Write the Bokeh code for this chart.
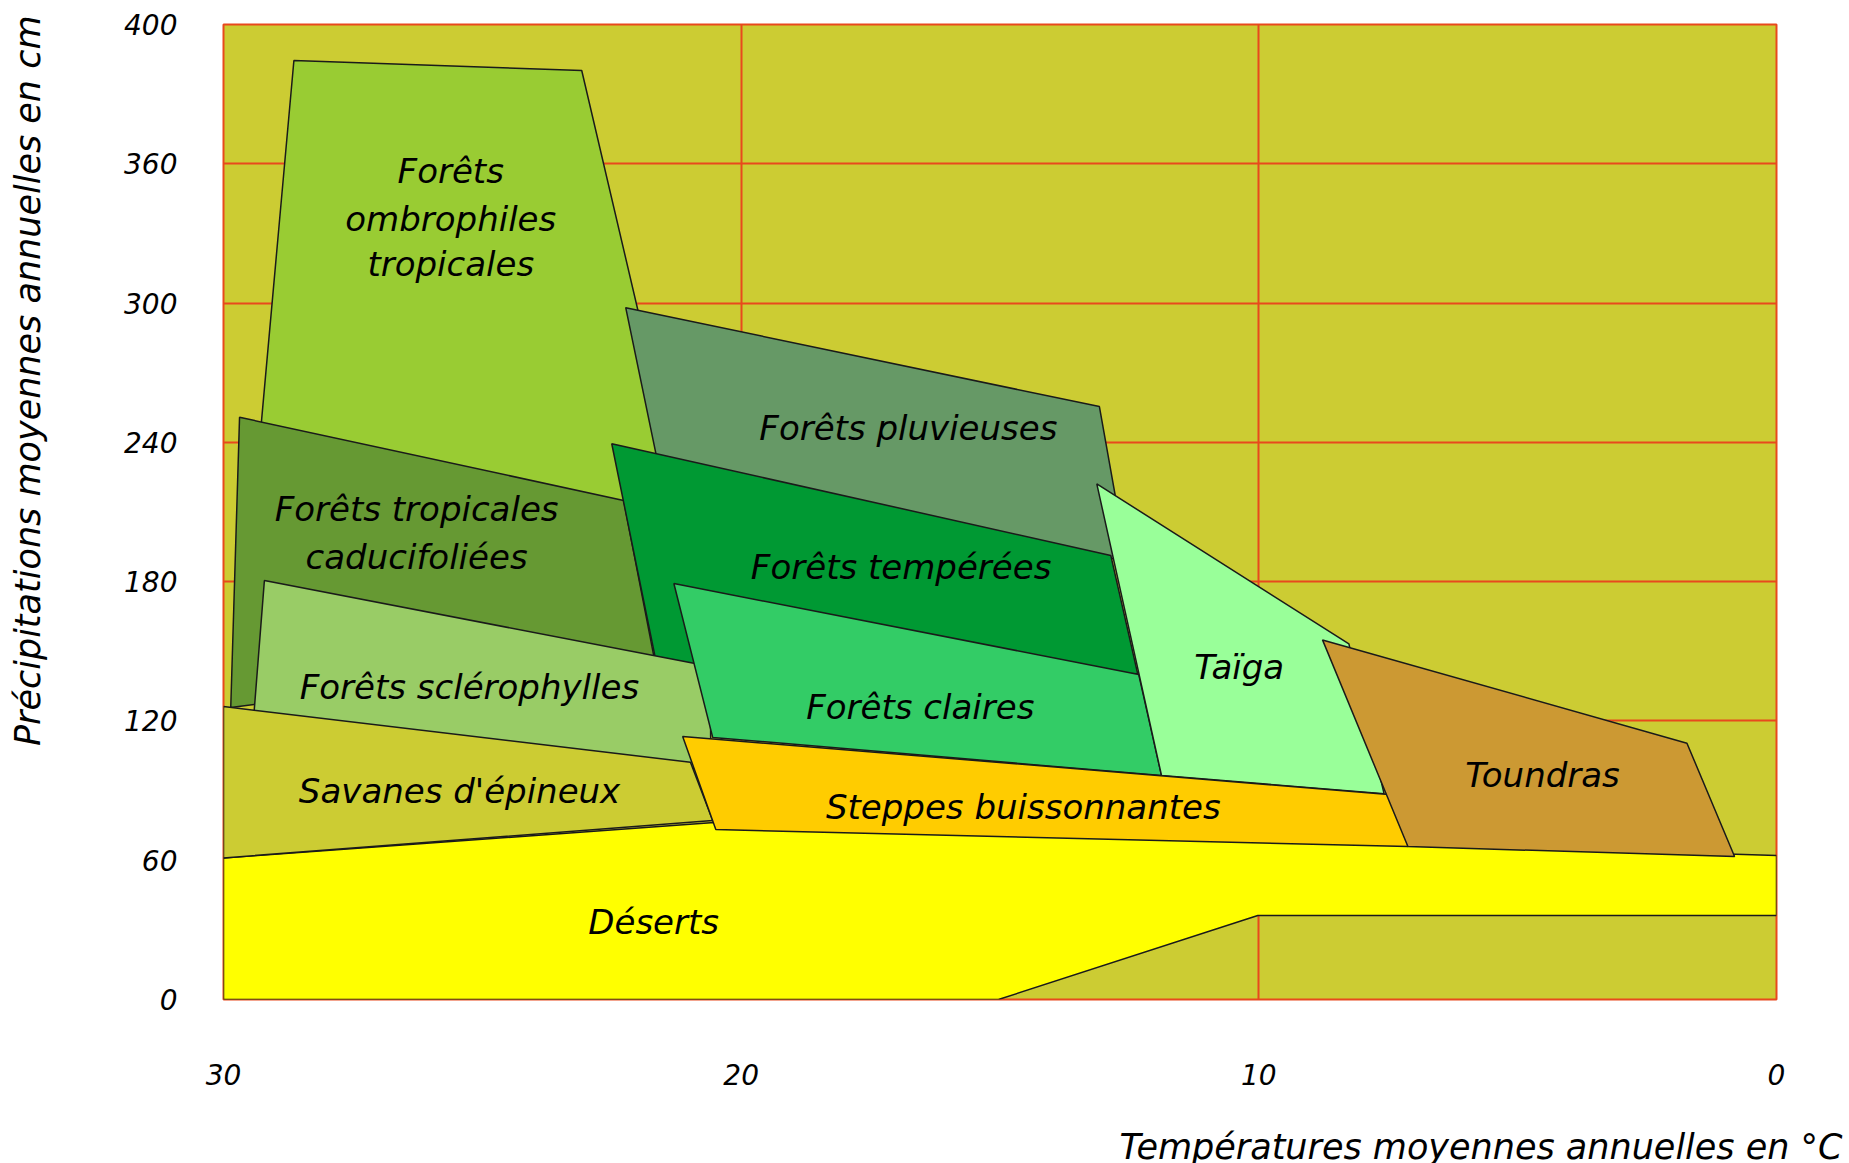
from bokeh.plotting import figure
from bokeh.models import ColumnDataSource, Range1d, FixedTicker, LinearAxis, Title
from bokeh.core.properties import value
from bokeh.embed import file_html
from bokeh.resources import INLINE

# ---- data: temperature (°C) / precipitation (cm, 60-cm grid) vertices ----
DESERTS_T = [30, 20.52, 0, 0, 10.02, 15.03, 30]
DESERTS_P = [61.0, 76.2, 62.0, 36.2, 36.2, 0, 0]

OMBRO_T = [28.64, 23.08, 21.04, 29.44]
OMBRO_P = [404.5, 400.2, 206.0, 206.0]

PLUV_T = [22.23, 13.08, 12.55, 21.46]
PLUV_P = [298.0, 255.4, 189.1, 215.0]

CADUC_T = [29.69, 22.27, 21.69, 29.86]
CADUC_P = [250.8, 215.0, 148.2, 125.8]

TEMPER_T = [22.50, 12.86, 12.34, 21.62]
TEMPER_P = [239.4, 191.3, 140.3, 142.9]

SCLERO_T = [29.21, 20.59, 20.59, 29.41]
SCLERO_P = [180.5, 143.4, 98.6, 123.6]

CLAIRES_T = [21.30, 12.32, 11.88, 20.55]
CLAIRES_P = [179.2, 140.0, 96.5, 112.9]

TAIGA_T = [13.13, 8.26, 7.58, 11.88]
TAIGA_P = [222.1, 153.2, 88.6, 96.5]

SAVANES_T = [30, 20.98, 20.55, 30]
SAVANES_P = [126.2, 102.2, 77.1, 61.0]

STEPPES_T = [21.13, 7.26, 7.12, 20.49]
STEPPES_P = [113.3, 87.9, 65.9, 73.2]

TOUNDRA_T = [8.77, 1.73, 0.81, 7.12]
TOUNDRA_P = [154.9, 110.4, 61.6, 65.9]

BIOME_COLORS = ["#FFFF00", "#99CC33", "#669966", "#669933", "#009933", "#99CC66",
                "#33CC66", "#99FF99", "#CCCC33", "#FFCC00", "#CC9933"]

LABELS = ["Forêts", "ombrophiles", "tropicales", "Forêts pluvieuses",
          "Forêts tropicales", "caducifoliées", "Forêts tempérées",
          "Forêts sclérophylles", "Forêts claires", "Taïga",
          "Savanes d'épineux", "Steppes buissonnantes", "Toundras", "Déserts"]
LABEL_T = [25.61, 25.61, 25.61, 16.77, 26.27, 26.27, 16.91, 25.25, 16.54, 10.38,
           25.44, 14.55, 4.52, 21.69]
LABEL_P = [356.7, 336.4, 317.0, 246.0, 211.1, 190.8, 186.2, 134.5, 126.2, 143.1,
           90.0, 82.9, 96.5, 33.3]

X_TICKS = [30, 20, 10, 0]
Y_TICKS = [0, 60, 120, 180, 240, 300, 360, 420]
Y_TICK_LABELS = ["0", "60", "120", "180", "240", "300", "360", "400"]

Y_TITLE = "Précipitations moyennes annuelles en cm"
X_TITLE = "Températures moyennes annuelles en °C"

FONT = "DejaVu Sans"
GRID_COLOR = "#E8491D"

p = figure(
    output_backend="svg", toolbar_location=None,
    frame_width=1553, frame_height=975,
    min_border_left=223, min_border_right=69, min_border_top=24, min_border_bottom=164,
    x_range=Range1d(30, 0), y_range=Range1d(0, 420),
    background_fill_color="#CCCC33", border_fill_color="white",
)
p.outline_line_color = GRID_COLOR
p.outline_line_width = 2

polys_t = [DESERTS_T, OMBRO_T, PLUV_T, CADUC_T, TEMPER_T, SCLERO_T, CLAIRES_T,
           TAIGA_T, SAVANES_T, STEPPES_T, TOUNDRA_T]
polys_p = [DESERTS_P, OMBRO_P, PLUV_P, CADUC_P, TEMPER_P, SCLERO_P, CLAIRES_P,
           TAIGA_P, SAVANES_P, STEPPES_P, TOUNDRA_P]
src = ColumnDataSource(dict(xs=polys_t, ys=polys_p, color=BIOME_COLORS))
p.patches("xs", "ys", source=src, fill_color="color", fill_alpha=1.0,
          line_color="#1a1a1a", line_width=1.5)

lsrc = ColumnDataSource(dict(x=LABEL_T, y=LABEL_P, text=LABELS))
p.text("x", "y", text="text", source=lsrc, text_font=value(FONT),
       text_font_style="italic", text_font_size="34px", text_color="black",
       text_align="center", text_baseline="middle")

# axes
p.xaxis.ticker = FixedTicker(ticks=X_TICKS)
p.yaxis.ticker = FixedTicker(ticks=Y_TICKS)
p.yaxis.major_label_overrides = {t: s for t, s in zip(Y_TICKS, Y_TICK_LABELS)}
for ax in (p.xaxis, p.yaxis):
    ax.axis_line_color = None
    ax.major_tick_line_color = None
    ax.minor_tick_line_color = None
    ax.major_label_text_font = FONT
    ax.major_label_text_font_style = "italic"
    ax.major_label_text_font_size = "28px"
    ax.major_label_text_color = "black"
p.xaxis.major_label_standoff = 58
p.yaxis.major_label_standoff = 40

# grid
p.xgrid.ticker = FixedTicker(ticks=[20, 10])
p.ygrid.ticker = FixedTicker(ticks=Y_TICKS[1:-1])
for g in (p.xgrid, p.ygrid):
    g.grid_line_color = GRID_COLOR
    g.grid_line_width = 2


# empty spacer axes (invisible blank label + standoff) push the titles outward
def spacer_axis(gap):
    ax = LinearAxis(ticker=FixedTicker(ticks=[]), axis_label="\u00a0",
                    axis_label_standoff=gap)
    ax.axis_label_text_font_size = "1px"
    ax.axis_label_text_alpha = 0
    ax.axis_line_color = None
    ax.major_tick_line_color = None
    ax.minor_tick_line_color = None
    ax.major_tick_out = 0
    ax.major_tick_in = 0
    ax.minor_tick_out = 0
    ax.minor_tick_in = 0
    ax.major_label_standoff = 0
    ax.major_label_text_font_size = "0px"
    return ax


p.add_layout(spacer_axis(69), "left")
p.add_layout(Title(text=Y_TITLE, align="right", offset=-9, standoff=0,
                   vertical_align="middle",
                   text_font=FONT, text_font_style="italic", text_font_size="35px",
                   text_color="black"), "left")
p.add_layout(spacer_axis(34), "below")
p.add_layout(Title(text=X_TITLE, align="right", offset=-66, standoff=0,
                   vertical_align="middle",
                   text_font=FONT, text_font_style="italic", text_font_size="35px",
                   text_color="black"), "below")

open("out.html", "w").write(file_html(p, INLINE))
